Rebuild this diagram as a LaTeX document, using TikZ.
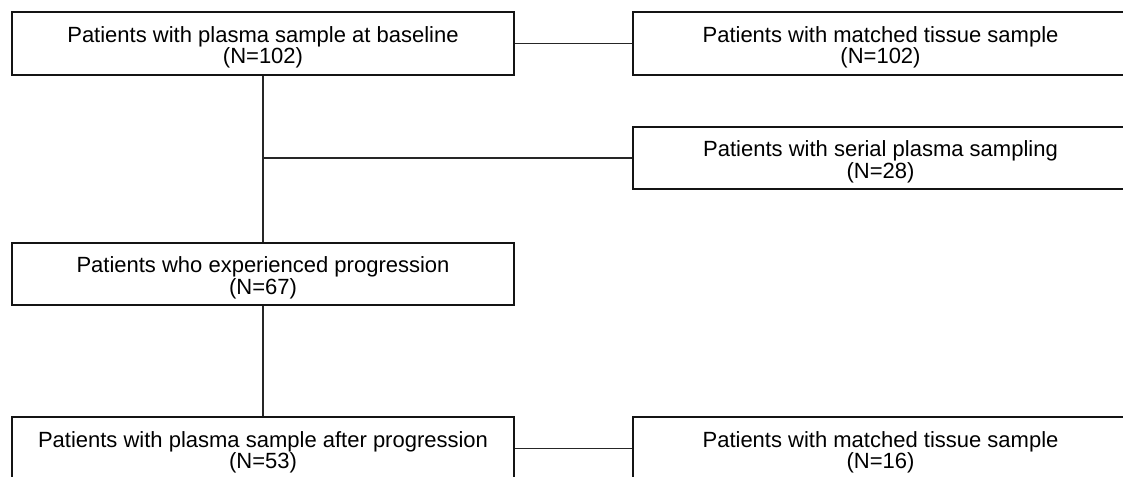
\documentclass[tikz,border=0pt]{standalone}
\usepackage{fontspec}
\setmainfont{Liberation Sans}
\newcommand{\boxgap}{\rule{0pt}{23.6pt}}

\begin{document}
\begin{tikzpicture}[%
            x=1pt, y=-1pt,
            box/.style={
                draw=black!92,
                line width=1.8pt,
                inner sep=0pt,
                minimum height=63pt,
                align=center,
                font=\fontsize{22}{21.5}\selectfont,
            },
            leftbox/.style={box, minimum width=502pt},
            rightbox/.style={box, minimum width=495pt},
            link/.style={draw=black!85, line width=1.2pt},
        ]
        \useasboundingbox (0,0) rectangle (1123,476);
        \node[leftbox] (baseline) at (263,43.5) {\boxgap Patients with plasma sample at baseline\\(N=102)};
        \node[rightbox] (tissue) at (880.5,43.5) {\boxgap Patients with matched tissue sample\\(N=102)};
        \node[rightbox, minimum height=62pt] (serial) at (880.5,158) {\boxgap Patients with serial plasma sampling\\(N=28)};
        \node[leftbox, minimum height=62pt] (progression) at (263,274) {\boxgap Patients who experienced progression\\(N=67)};
        \node[leftbox] (after) at (263,448.5) {\boxgap Patients with plasma sample after progression\\(N=53)};
        \node[rightbox] (aftertissue) at (880.5,448.5) {\boxgap Patients with matched tissue sample\\(N=16)};
        \coordinate (split) at (baseline.south |- serial.west);
        \draw[link] (baseline) -- (tissue);
        \draw[link] (baseline) -- (progression);
        \draw[link] (split) -- (serial);
        \draw[link] (progression) -- (after);
        \draw[link] (after) -- (aftertissue);
\end{tikzpicture}
\end{document}
